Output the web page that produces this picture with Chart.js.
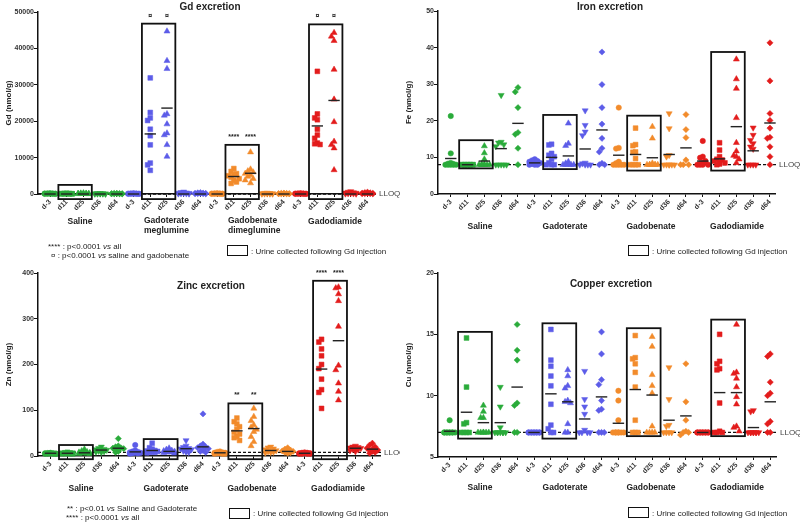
<!DOCTYPE html>
<html><head><meta charset="utf-8">
<script src="https://cdn.jsdelivr.net/npm/chart.js@4"></script>
<style>
body{margin:0;background:#fff;}
#wrap{position:relative;width:800px;height:523px;overflow:hidden;font-family:'Liberation Sans',Arial,sans-serif;color:#222;}
canvas{position:absolute;}
.t{position:absolute;transform:translate(-50%,-50%);white-space:nowrap;}
.l{position:absolute;transform:translateY(-50%);white-space:nowrap;}
.title{font-weight:bold;font-size:10px;}
.grp{font-weight:bold;font-size:8.5px;}
.grp2{position:absolute;font-weight:bold;font-size:8.5px;line-height:9.5px;white-space:nowrap;}
.note{font-size:8px;}
.box{position:absolute;border:1.6px solid #111;box-sizing:border-box;}
</style></head>
<body><div id="wrap">
<canvas id="cGd" width="400" height="262" style="left:0;top:0"></canvas>
<canvas id="cFe" width="400" height="262" style="left:400px;top:0"></canvas>
<canvas id="cZn" width="400" height="261" style="left:0;top:262px"></canvas>
<canvas id="cCu" width="400" height="261" style="left:400px;top:262px"></canvas>

<div class="t title" style="left:210px;top:6px">Gd excretion</div>
<div class="t title" style="left:610px;top:6px">Iron excretion</div>
<div class="t title" style="left:211px;top:285px">Zinc excretion</div>
<div class="t title" style="left:611px;top:283px">Copper excretion</div>

<div class="t grp" style="left:80px;top:221px">Saline</div>
<div class="grp2" style="left:144px;top:216px">Gadoterate<br>meglumine</div>
<div class="grp2" style="left:228px;top:216px">Gadobenate<br>dimeglumine</div>
<div class="t grp" style="left:335px;top:221px">Gadodiamide</div>

<div class="t grp" style="left:480px;top:226px">Saline</div>
<div class="t grp" style="left:565px;top:226px">Gadoterate</div>
<div class="t grp" style="left:651px;top:226px">Gadobenate</div>
<div class="t grp" style="left:737px;top:226px">Gadodiamide</div>

<div class="t grp" style="left:81px;top:488px">Saline</div>
<div class="t grp" style="left:166px;top:488px">Gadoterate</div>
<div class="t grp" style="left:252px;top:488px">Gadobenate</div>
<div class="t grp" style="left:338px;top:488px">Gadodiamide</div>

<div class="t grp" style="left:480px;top:487px">Saline</div>
<div class="t grp" style="left:565px;top:487px">Gadoterate</div>
<div class="t grp" style="left:651px;top:487px">Gadobenate</div>
<div class="t grp" style="left:737px;top:487px">Gadodiamide</div>

<div class="l note" style="left:48px;top:246px">**** : p&lt;0.0001 <i>vs</i> all</div>
<div class="l note" style="left:51px;top:255px">¤ : p&lt;0.0001 <i>vs</i> saline and gadobenate</div>
<div class="box" style="left:227px;top:245px;width:21px;height:11px"></div>
<div class="l note" style="left:251px;top:250.5px">: Urine collected following Gd injection</div>

<div class="box" style="left:628px;top:245px;width:21px;height:11px"></div>
<div class="l note" style="left:652px;top:250.5px">: Urine collected following Gd injection</div>

<div class="l note" style="left:67px;top:508px">** : p&lt;0.01 <i>vs</i> Saline and Gadoterate</div>
<div class="l note" style="left:66px;top:517px">**** : p&lt;0.0001 <i>vs</i> all</div>
<div class="box" style="left:229px;top:507.5px;width:21px;height:11px"></div>
<div class="l note" style="left:253px;top:513px">: Urine collected following Gd injection</div>

<div class="box" style="left:628px;top:507px;width:21px;height:11px"></div>
<div class="l note" style="left:652px;top:512.5px">: Urine collected following Gd injection</div>
</div>
<script>
// ---------- labels ----------
const days = ['d-3','d11','d25','d36','d64'];
const groupNames = ['Saline','Gadoterate','Gadobenate','Gadodiamide'];
const tickLabels = [].concat(days, days, days, days);

// ---------- Gd (nmol/g) ----------
const gdSaline = [
  [220,180,150,120,100,80,60,50,40,30],
  [200,160,130,110,90,70,60,50,40,30],
  [250,190,150,120,100,80,60,50,40,30],
  [210,170,140,110,90,70,60,50,40,30],
  [200,160,130,100,80,70,60,50,40,30]
];
const gdGadoterate = [
  [200,160,130,110,90,70,60,50,40,30],
  [31900,22400,20900,20200,17800,16000,13500,8500,8000,6500],
  [44700,36600,34400,22000,21600,19200,16700,16200,13500,10300],
  [600,450,350,280,220,180,150,120,100,80],
  [400,320,260,210,170,140,110,90,70,50]
];
const gdGadobenate = [
  [200,160,130,110,90,70,60,50,40,30],
  [7000,6200,5600,5300,5000,4600,4200,3800,3300,2900],
  [11500,6800,6300,6000,5600,5200,4800,4200,3800,3000],
  [300,250,200,160,130,100,80,60,50,40],
  [250,200,160,130,100,80,60,50,40,30]
];
const gdGadodiamide = [
  [200,160,130,110,90,70,60,50,40,30],
  [33700,22000,20900,20400,17800,16200,15300,14000,13800,13600],
  [44300,43300,42100,34200,26000,19800,14400,13500,12600,6600],
  [700,550,420,330,260,200,160,120,90,60],
  [500,400,320,250,200,160,120,90,70,50]
];
const gdMeans = [0,0,0,0,0, 0,16500,23600,0,0, 0,4800,5700,0,0, 0,18700,25700,0,0];
const gdBoxTop = [2500, 46800, 13500, 46600];
const gdBoxBottom = [-1400, -1400, -1400, -1400];
const gdSig = {6:'¤', 7:'¤', 11:'****', 12:'****', 16:'¤', 17:'¤'};

// ---------- Iron (nmol/g) ----------
const feSaline = [
  [21.3,11.1,8.5,8.3,8.2,8,8,8,8,8],
  [8,8,8,8,8,8,8,8,8,8],
  [13.1,11.2,9.5,8,8,8,8,8,8,8],
  [27,14.2,14,13.5,13,8,8,8,8,8],
  [29.1,27.9,23.6,16.8,16.3,12.5,8]
];
const feGadoterate = [
  [9.5,9.2,9,8.8,8.5,8.3,8.2,8,8,8],
  [13.6,13.4,11.1,10.6,10.2,9.5,8.5,8,8,8],
  [19.3,13.8,13.2,8.8,8.4,8,8,8,8,8],
  [22.8,18.8,17,16,8.5,8.3,8,8,8,8],
  [38.8,29.9,23.6,19.1,15.2,12.5,11.5,8.4,8,8]
];
const feGadobenate = [
  [23.6,12.6,12.4,8.8,8.4,8,8,8,8,8],
  [18,13.5,13.2,11.5,11.4,9.7,8,8,8,8],
  [18.4,15.2,8.4,8,8,8,8,8,8,8],
  [22,17.9,10.6,10.2,8,8,8,8,8,8],
  [21.7,17.6,15.4,9.3,8,8,8]
];
const feGadodiamide = [
  [14.5,10.2,9.9,9,8.5,8.2,8,8,8,8],
  [14,12,10.2,9.5,9.3,9,8.7,8.5,8.2,8],
  [36.8,31.4,28.8,20.8,14,11.7,10.5,10.2,9.5,8.5],
  [18.1,16.1,14.7,13.8,12.9,12.3,8,8,8,8],
  [41.3,30.9,22,20.1,18,15.5,15.2,12.9,10.2,8]
];
const feMeans = [9.7,8,9.0,12.4,19.3, 8.5,10.0,10.4,12.3,17.5, 10.6,10.8,9.9,10.8,12.6, 9.0,9.6,18.4,11.8,19.4];
const feBoxTop = [14.7, 21.6, 21.4, 38.8];
const feBoxBottom = [7.0, 6.8, 6.4, 6.4];

// ---------- Zinc (nmol/g) ----------
const znSaline = [
  [7,6.5,6,6,5.5,5.5,5,5,5,4.5],
  [8,7,6.5,6,6,5.5,5.5,5,5,5],
  [15,11,9,8,7,6.5,6,5.5,5,5],
  [20,17,15,14,13,12,11,10,9,8],
  [38,22,20,18,17,16,14,12,10,8]
];
const znGadoterate = [
  [24,12,10,9,8,7,7,6,6,5],
  [28,18,15,12,11,10,9,8,8,7],
  [17,14,12,11,10,9,8,8,7,6],
  [34,22,19,17,16,14,12,11,9,8],
  [92,26,22,20,18,16,14,12,10,8]
];
const znGadobenate = [
  [10,9,8,7,7,6,6,5,5,5],
  [83,75,70,64,58,52,48,43,40,34],
  [104,86,77,68,63,58,53,42,31,22],
  [20,18,16,14,12,11,10,9,8,7],
  [18,15,13,11,10,9,8,7,6]
];
const znGadodiamide = [
  [8,7,7,6,6,6,5,5,5,5],
  [255,249,234,219,200,191,168,145,139,104],
  [369,367,354,339,283,198,188,159,141,122],
  [22,20,19,18,17,16,15,14,12,10],
  [28,24,20,17,15,13,12,10,8,6]
];
const znMeans = [6,6,7,13,17, 9,12,10,16,20, 7,55,60,12,10, 6,190,252,17,15];
const znBoxTop = [24, 37, 115, 383];
const znBoxBottom = [-7, -7, -7, -7];
const znSig = {11:'**', 12:'**', 16:'****', 17:'****'};

// ---------- Copper (nmol/g) ----------
const cuSaline = [
  [8,7,7,7,7,7,7,7,7,7],
  [14.7,10.7,7.8,7.7,7,7,7,7],
  [9.2,8.7,8.2,8.2,7,7,7,7,7,7],
  [10.7,9.1,7.4,7,7,7,7,7,7,7],
  [15.8,13.7,12.9,9.4,9.2,7,7]
];
const cuGadoterate = [
  [7,7,7,7,7,7,7,7,7,7],
  [15.4,12.9,12.4,11.6,10.8,9.3,7.6,7.3,7,7],
  [12.1,11.6,10.8,10.6,9.6,9.5,9.4,7.7,7,7],
  [12,9.7,9.1,8.5,7.2,7,7,7,7],
  [15.2,13.4,11.3,10.9,9.6,8.9,8.8,7,7,7]
];
const cuGadobenate = [
  [10.4,9.6,8,7,7,7,7,7,7,7],
  [14.9,13.1,13,12.6,11.9,10.7,8,7,7,7],
  [14.8,14,11.7,10.8,10.2,7.5,7,7,7,7],
  [12.3,9.7,7.6,7.5,7,7,7,7],
  [12.6,9.5,8,7.1,6.8,7,7]
];
const cuGadodiamide = [
  [7,7,7,7,7,7,7,7,7,7],
  [15,12.8,12.6,12.2,12.1,9.4,7.1,7,7,7],
  [15.8,11.9,11.8,11.4,10.7,9.9,9.3,7.5,7.4,7.1],
  [8.8,8.7,7,7,7,7,7,7,7,7],
  [13.4,13.2,11.1,10.2,10,7.9,7.7,7,7]
];
const cuMeans = [7.1,8.65,7.8,7.8,10.7, 7,10.15,9.5,8.1,9.9, 7.75,10.5,10.05,8.0,8.35, 7,10.25,10.25,7.4,9.5];
const cuBoxTop = [15.2, 15.9, 15.5, 16.2];
const cuBoxBottom = [6.5, 6.5, 6.7, 6.7];

// ---------- styles ----------
const groupColors = ['#2aab3a', '#5c5ce8', '#f28b2b', '#e31c1c'];
const dayStyles = [
  {s:'circle', r:2.7, rot:0},
  {s:'rect', r:3.4, rot:0},
  {s:'triangle', r:3.5, rot:0},
  {s:'triangle', r:3.5, rot:180},
  {s:'rectRot', r:3.1, rot:0}
];
const FONT = "'Liberation Sans', Arial, sans-serif";

// horizontal spread of overlapping points within a column (layout only)
function swarm(values, idx, range) {
  const thr = range * 0.03;
  const slots = [0, -0.16, 0.16, -0.32, 0.32];
  const placed = [];
  values.slice().sort((a, b) => b - a).forEach(v => {
    let best = 0, bestCount = Infinity;
    for (const s of slots) {
      const c = placed.filter(q => Math.abs(q.dx - s) < 0.14 && Math.abs(q.v - v) < thr).length;
      if (c < bestCount) { bestCount = c; best = s; }
      if (c === 0) break;
    }
    placed.push({v, dx: best});
  });
  return placed.map(q => ({x: idx + q.dx, y: q.v}));
}

function makeOverlay(cfg) {
  return {
    id: 'overlay',
    beforeDatasetsDraw(chart) {
      const {ctx, chartArea: a, scales: {x, y}} = chart;
      ctx.save();
      const yl = y.getPixelForValue(cfg.lloq);
      ctx.setLineDash([3, 2]);
      ctx.lineWidth = 1.3;
      ctx.strokeStyle = '#111';
      ctx.beginPath(); ctx.moveTo(a.left, yl); ctx.lineTo(a.right + 2, yl); ctx.stroke();
      ctx.setLineDash([]);
      ctx.fillStyle = '#444';
      ctx.font = '8px ' + FONT;
      ctx.textBaseline = 'middle';
      ctx.textAlign = 'left';
      ctx.fillText('LLOQ', a.right + 4, yl);
      ctx.restore();
    },
    afterDatasetsDraw(chart) {
      const {ctx, scales: {x, y}} = chart;
      ctx.save();
      ctx.strokeStyle = '#222';
      ctx.lineWidth = 1.4;
      cfg.means.forEach((m, i) => {
        if (m === null) return;
        const py = y.getPixelForValue(m);
        ctx.beginPath();
        ctx.moveTo(x.getPixelForValue(i - 0.34), py);
        ctx.lineTo(x.getPixelForValue(i + 0.34), py);
        ctx.stroke();
      });
      ctx.lineWidth = 1.8;
      ctx.strokeStyle = '#111';
      cfg.boxTop.forEach((t, gi) => {
        const x0 = x.getPixelForValue(gi * 5 + 0.5);
        const x1 = x.getPixelForValue(gi * 5 + 2.5);
        const y0 = y.getPixelForValue(t);
        const y1 = y.getPixelForValue(cfg.boxBottom[gi]);
        ctx.strokeRect(x0, y0, x1 - x0, y1 - y0);
      });
      ctx.fillStyle = '#222';
      ctx.font = 'bold 7px ' + FONT;
      ctx.textAlign = 'center';
      ctx.textBaseline = 'middle';
      Object.keys(cfg.sig || {}).forEach(k => {
        const i = +k;
        const gi = Math.floor(i / 5);
        ctx.fillText(cfg.sig[k], x.getPixelForValue(i), y.getPixelForValue(cfg.boxTop[gi]) - 8);
      });
      ctx.restore();
    }
  };
}

function makePanel(id, cfg) {
  const datasets = [];
  cfg.groups.forEach((g, gi) => g.forEach((vals, di) => {
    const idx = gi * 5 + di;
    const st = dayStyles[di];
    datasets.push({
      data: swarm(vals, idx, cfg.yMax - cfg.yMin),
      backgroundColor: groupColors[gi],
      borderColor: groupColors[gi],
      borderWidth: 0.5,
      pointStyle: st.s,
      pointRadius: st.r,
      pointRotation: st.rot,
      clip: false
    });
  }));
  const tickFont = {family: FONT, size: 7, weight: 'bold'};
  new Chart(document.getElementById(id), {
    type: 'scatter',
    data: {datasets},
    plugins: [makeOverlay(cfg)],
    options: {
      responsive: false, animation: false, devicePixelRatio: 1, events: [],
      layout: {padding: {left: 0, right: cfg.padRight, top: cfg.padTop, bottom: 0}},
      plugins: {legend: {display: false}, tooltip: {enabled: false}, title: {display: false}},
      scales: {
        x: {
          type: 'linear', min: cfg.xMin, max: cfg.xMax, bounds: 'data',
          afterBuildTicks: s => { s.ticks = tickLabels.map((_, i) => ({value: i})); },
          afterFit: s => { s.height = cfg.xAxisH; },
          grid: {drawOnChartArea: false, drawTicks: true, tickLength: 3, color: '#111', lineWidth: 1},
          border: {display: true, color: '#111', width: 1.5},
          ticks: {autoSkip: false, minRotation: 45, maxRotation: 45, padding: 1, color: '#333', font: tickFont,
                  callback: v => tickLabels[Math.round(v)]}
        },
        y: {
          min: cfg.yMin, max: cfg.yMax,
          afterFit: s => { s.width = 38; },
          title: {display: true, text: cfg.yTitle, color: '#222', font: {family: FONT, size: 8, weight: 'bold'}, padding: {top: 4, bottom: 0}},
          grid: {drawOnChartArea: false, drawTicks: true, tickLength: 4, color: '#111', lineWidth: 1},
          border: {display: true, color: '#111', width: 1.5},
          ticks: {stepSize: cfg.yStep, color: '#333', padding: 0, font: {family: FONT, size: 7, weight: 'bold'},
                  callback: v => String(v)}
        }
      }
    }
  });
}

makePanel('cGd', {
  groups: [gdSaline, gdGadoterate, gdGadobenate, gdGadodiamide],
  means: gdMeans, boxTop: gdBoxTop, boxBottom: gdBoxBottom, sig: gdSig, lloq: 0,
  yMin: 0, yMax: 50000, yStep: 10000, yTitle: 'Gd (nmol/g)',
  xMin: -0.72, xMax: 19.45, padRight: 25, padTop: 12, xAxisH: 68
});
makePanel('cFe', {
  groups: [feSaline, feGadoterate, feGadobenate, feGadodiamide],
  means: feMeans, boxTop: feBoxTop, boxBottom: feBoxBottom, sig: {}, lloq: 8,
  yMin: 0, yMax: 50, yStep: 10, yTitle: 'Fe (nmol/g)',
  xMin: -0.76, xMax: 19.3, padRight: 25, padTop: 11, xAxisH: 68
});
makePanel('cZn', {
  groups: [znSaline, znGadoterate, znGadobenate, znGadodiamide],
  means: znMeans, boxTop: znBoxTop, boxBottom: znBoxBottom, sig: znSig, lloq: 8,
  yMin: 0, yMax: 400, yStep: 100, yTitle: 'Zn (nmol/g)',
  xMin: -0.74, xMax: 19.45, padRight: 20, padTop: 11, xAxisH: 67
});
makePanel('cCu', {
  groups: [cuSaline, cuGadoterate, cuGadobenate, cuGadodiamide],
  means: cuMeans, boxTop: cuBoxTop, boxBottom: cuBoxBottom, sig: {}, lloq: 7,
  yMin: 5, yMax: 20, yStep: 5, yTitle: 'Cu (nmol/g)',
  xMin: -0.69, xMax: 19.34, padRight: 24, padTop: 11, xAxisH: 66
});
</script>
</body></html>
